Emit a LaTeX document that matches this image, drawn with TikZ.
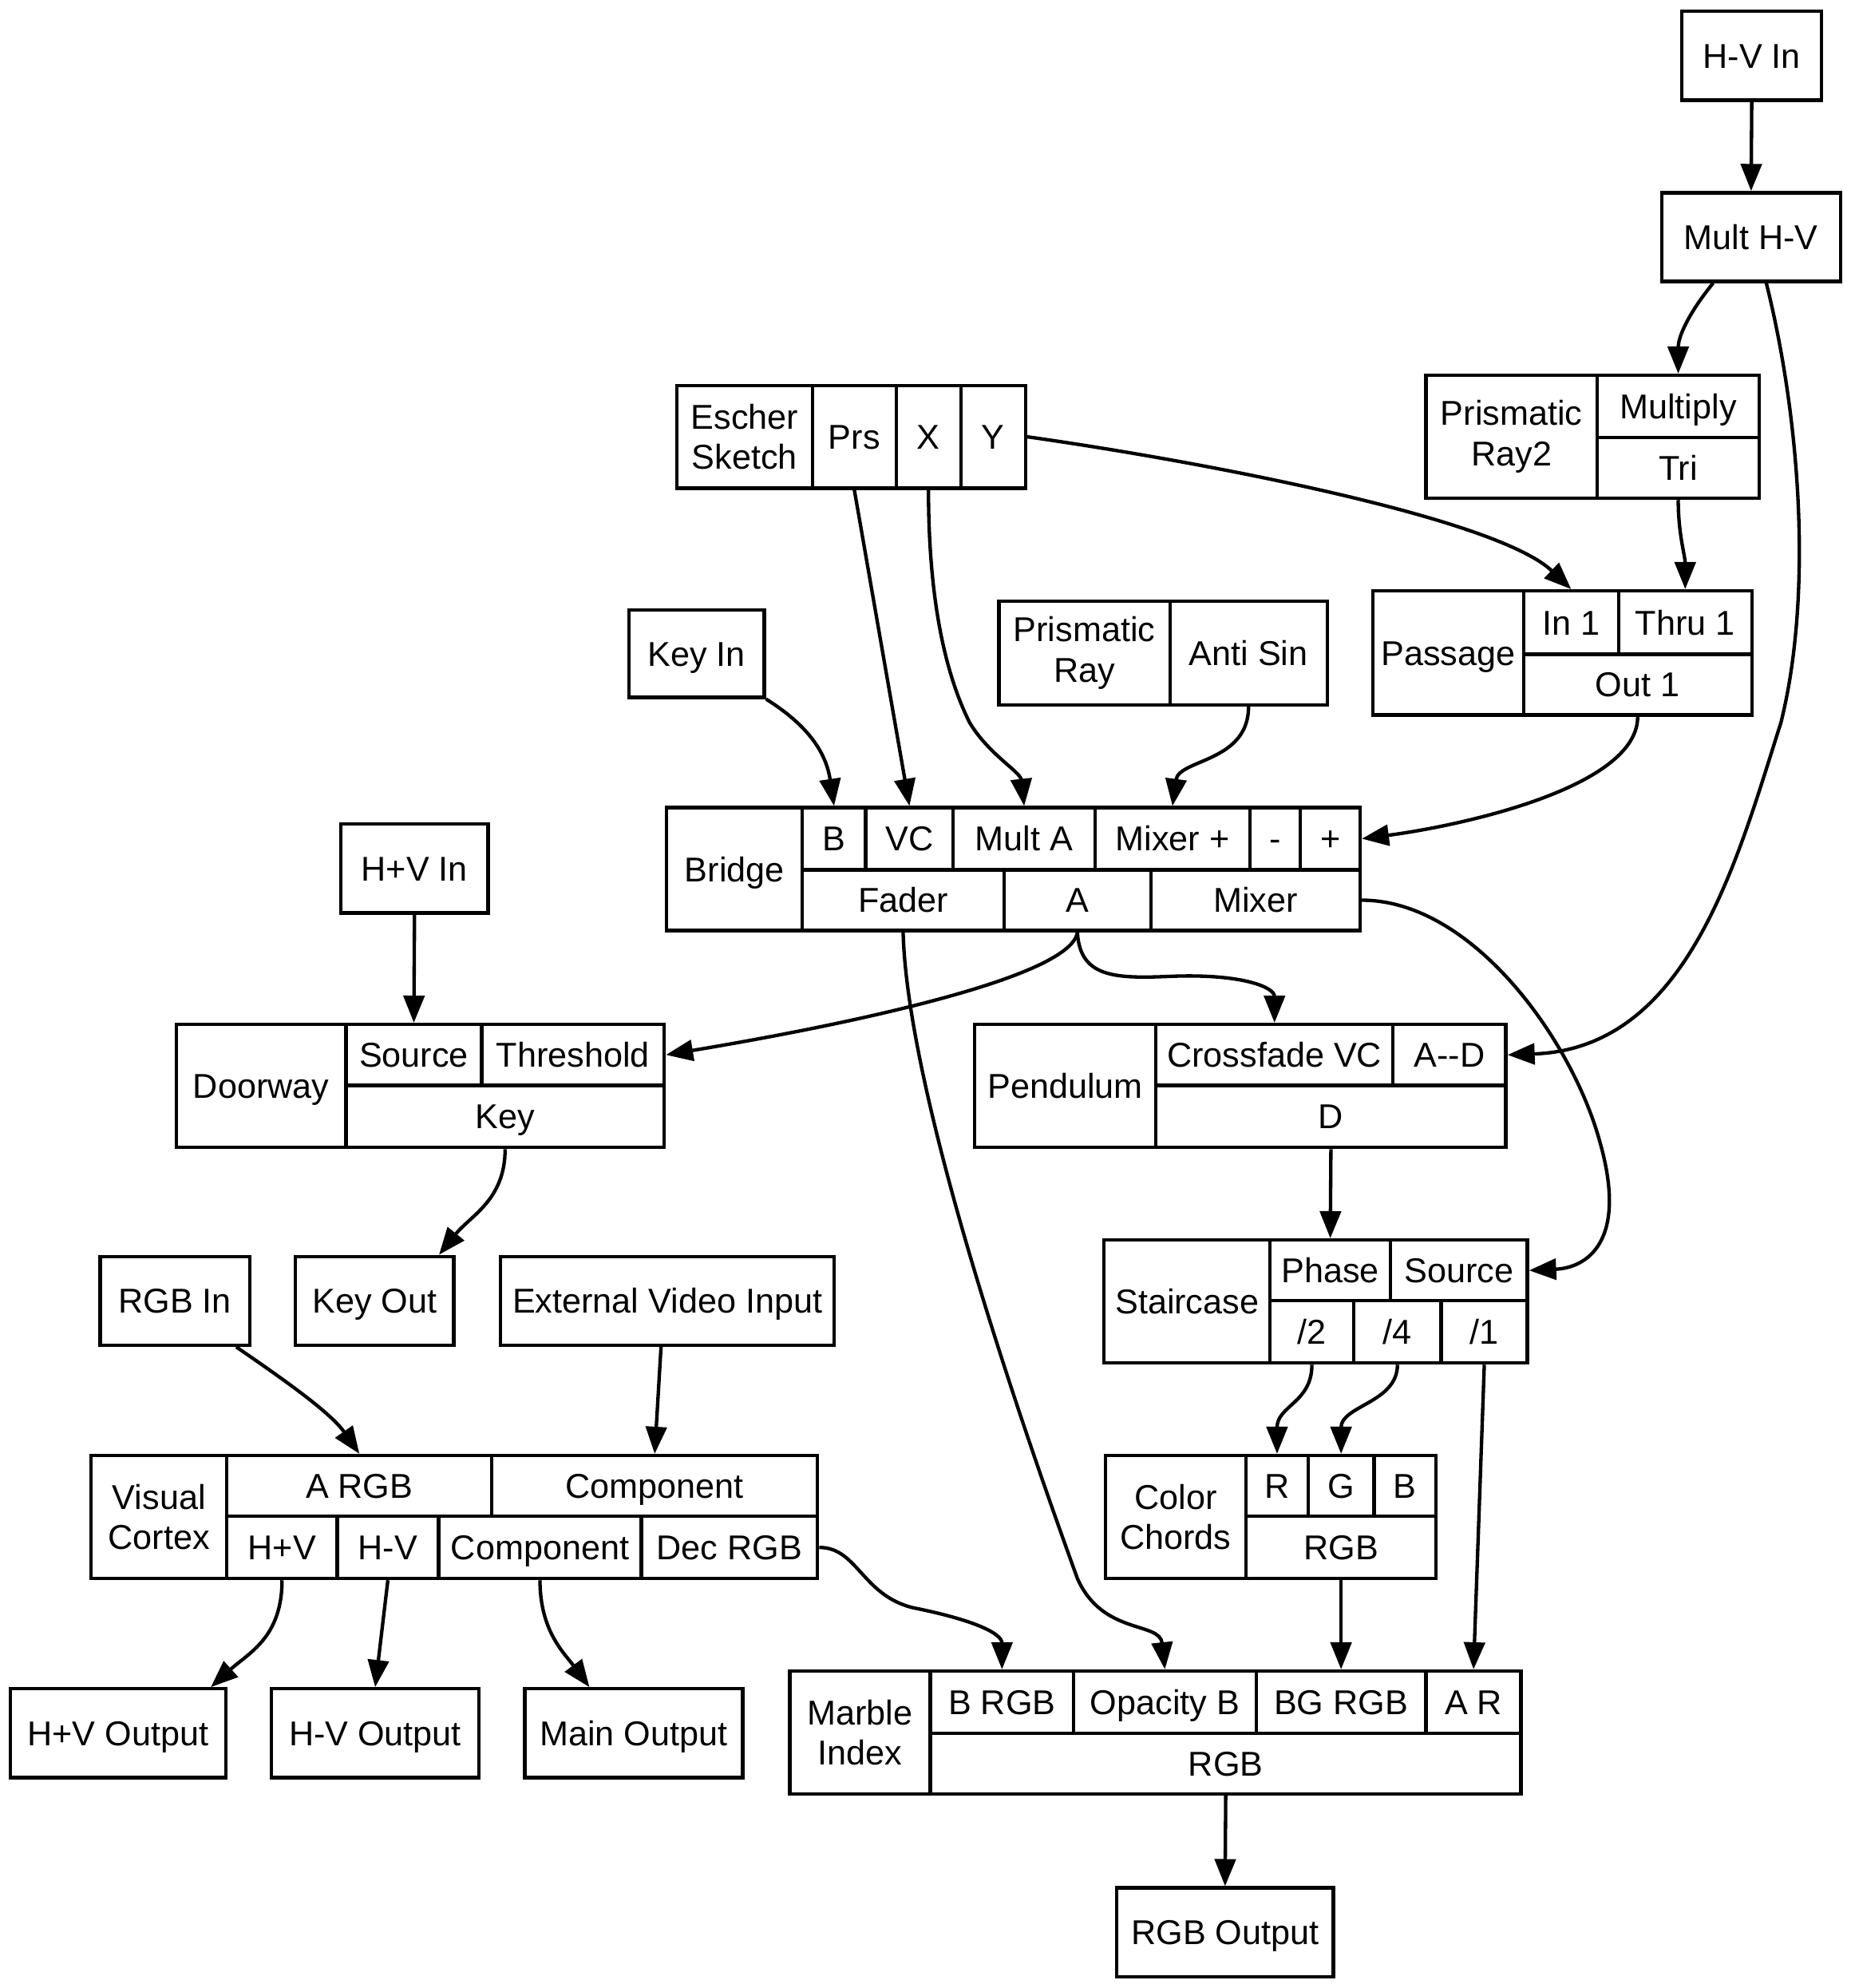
\documentclass[tikz,border=0pt]{standalone}
\usepackage{fontspec}
\setmainfont{Liberation Sans}
\usetikzlibrary{arrows.meta, fit, calc}

\begin{document}
\begin{tikzpicture}[x=0.515pt, y=-0.515pt,
  fld/.style={draw, line width=1.4pt, inner sep=0pt, fit={#1}},
  txt/.style={inner sep=0pt, font=\fontsize{14}{16.5}\selectfont, text height=10pt, text depth=0pt},
  txttwo/.style={inner sep=0pt, align=center, font=\fontsize{14}{16.5}\selectfont},
  link/.style={line width=1.4pt, -{Triangle[length=11pt, width=8.5pt]}}]
\useasboundingbox (0,0) rectangle (1460,1568);
\node[fld={(1327,9) (1437,79)}, label={[txt]center:H-V In}] (hvin) {};
\node[fld={(1311,152) (1452,222)}, label={[txt]center:Mult H-V}] (multhv) {};
\node[fld={(496,481) (603,550)}, label={[txt]center:Key In}] (keyin) {};
\node[fld={(269,650) (385,720)}, label={[txt]center:H+V In}] (hpvin) {};
\node[fld={(79,991) (197,1061)}, label={[txt]center:RGB In}] (rgbin) {};
\node[fld={(233,991) (358,1061)}, label={[txt]center:Key Out}] (keyout) {};
\node[fld={(395,991) (658,1061)}, label={[txt]center:External Video Input}] (extin) {};
\node[fld={(8,1332) (178,1402)}, label={[txt]center:H+V Output}] (hpvout) {};
\node[fld={(214,1332) (378,1402)}, label={[txt]center:H-V Output}] (hvout) {};
\node[fld={(414,1332) (586,1402)}, label={[txt]center:Main Output}] (mainout) {};
\node[fld={(881,1489) (1052,1559)}, label={[txt]center:RGB Output}] (rgbout) {};
\node[fld={(1125,296) (1260,393)}, label={[txttwo]center:{Prismatic\\Ray2}}] (pr2) {};
\node[fld={(1260,296) (1388,345)}, label={[txt]center:Multiply}] (pr2mul) {};
\node[fld={(1260,345) (1388,393)}, label={[txt]center:Tri}] (pr2tri) {};
\node[fld={(534,304) (641,385)}, label={[txttwo]center:{Escher\\Sketch}}] (esc) {};
\node[fld={(641,304) (707,385)}, label={[txt]center:Prs}] (escprs) {};
\node[fld={(707,304) (758,385)}, label={[txt]center:X}] (escx) {};
\node[fld={(758,304) (809,385)}, label={[txt]center:Y}] (escy) {};
\node[fld={(788,474) (923,556)}, label={[txttwo]center:{Prismatic\\Ray}}] (pr) {};
\node[fld={(923,474) (1047,556)}, label={[txt]center:Anti Sin}] (prsin) {};
\node[fld={(1083,466) (1202,564)}, label={[txt]center:Passage}] (pas) {};
\node[fld={(1202,466) (1277,516)}, label={[txt]center:In 1}] (pasin) {};
\node[fld={(1277,466) (1382,516)}, label={[txt]center:Thru 1}] (pasthru) {};
\node[fld={(1202,516) (1382,564)}, label={[txt]center:Out 1}] (pasout) {};
\node[fld={(526,637) (633,734)}, label={[txt]center:Bridge}] (br) {};
\node[fld={(633,637) (683,686)}, label={[txt]center:B}] (brb) {};
\node[fld={(683,637) (752,686)}, label={[txt]center:VC}] (brvc) {};
\node[fld={(752,637) (864,686)}, label={[txt]center:Mult A}] (brmulta) {};
\node[fld={(864,637) (986,686)}, label={[txt]center:Mixer +}] (brmixp) {};
\node[fld={(986,637) (1026,686)}, label={[txt]center:-}] (brminus) {};
\node[fld={(1026,637) (1073,686)}, label={[txt]center:+}] (brplus) {};
\node[fld={(633,686) (792,734)}, label={[txt]center:Fader}] (brfader) {};
\node[fld={(792,686) (908,734)}, label={[txt]center:A}] (bra) {};
\node[fld={(908,686) (1073,734)}, label={[txt]center:Mixer}] (brmix) {};
\node[fld={(139,808) (273,905)}, label={[txt]center:Doorway}] (door) {};
\node[fld={(273,808) (380,856)}, label={[txt]center:Source}] (doorsrc) {};
\node[fld={(380,808) (524,856)}, label={[txt]center:Threshold}] (doorthr) {};
\node[fld={(273,856) (524,905)}, label={[txt]center:Key}] (doorkey) {};
\node[fld={(769,808) (912,905)}, label={[txt]center:Pendulum}] (pend) {};
\node[fld={(912,808) (1099,856)}, label={[txt]center:Crossfade VC}] (pendxf) {};
\node[fld={(1099,808) (1188,856)}, label={[txt]center:A\mbox{-}\mbox{-}D}] (pendad) {};
\node[fld={(912,856) (1188,905)}, label={[txt]center:D}] (pendd) {};
\node[fld={(871,978) (1002,1075)}, label={[txt]center:Staircase}] (stair) {};
\node[fld={(1002,978) (1097,1026)}, label={[txt]center:Phase}] (stairph) {};
\node[fld={(1097,978) (1205,1026)}, label={[txt]center:Source}] (stairsrc) {};
\node[fld={(1002,1026) (1068,1075)}, label={[txt]center:/2}] (stairtwo) {};
\node[fld={(1068,1026) (1137,1075)}, label={[txt]center:/4}] (stairfour) {};
\node[fld={(1137,1026) (1205,1075)}, label={[txt]center:/1}] (stairone) {};
\node[fld={(72,1148) (179,1245)}, label={[txttwo]center:{Visual\\Cortex}}] (vc) {};
\node[fld={(179,1148) (388,1196)}, label={[txt]center:A RGB}] (vcargb) {};
\node[fld={(388,1148) (645,1196)}, label={[txt]center:Component}] (vccompin) {};
\node[fld={(179,1196) (266,1245)}, label={[txt]center:H+V}] (vchpv) {};
\node[fld={(266,1196) (346,1245)}, label={[txt]center:H-V}] (vchmv) {};
\node[fld={(346,1196) (506,1245)}, label={[txt]center:Component}] (vccomp) {};
\node[fld={(506,1196) (645,1245)}, label={[txt]center:Dec RGB}] (vcdec) {};
\node[fld={(872,1148) (983,1245)}, label={[txttwo]center:{Color\\Chords}}] (cc) {};
\node[fld={(983,1148) (1032,1196)}, label={[txt]center:R}] (ccr) {};
\node[fld={(1032,1148) (1084,1196)}, label={[txt]center:G}] (ccg) {};
\node[fld={(1084,1148) (1133,1196)}, label={[txt]center:B}] (ccb) {};
\node[fld={(983,1196) (1133,1245)}, label={[txt]center:RGB}] (ccrgb) {};
\node[fld={(623,1318) (734,1415)}, label={[txttwo]center:{Marble\\Index}}] (mi) {};
\node[fld={(734,1318) (847,1367)}, label={[txt]center:B RGB}] (mibrgb) {};
\node[fld={(847,1318) (991,1367)}, label={[txt]center:Opacity B}] (miop) {};
\node[fld={(991,1318) (1125,1367)}, label={[txt]center:BG RGB}] (mibg) {};
\node[fld={(1125,1318) (1200,1367)}, label={[txt]center:A R}] (miar) {};
\node[fld={(734,1367) (1200,1415)}, label={[txt]center:RGB}] (mirgb) {};
\draw[link] (hvin.south) -- (multhv.north);
\draw[link] ($(multhv.south)+(-30,0)$) .. controls +(-18,22) and +(0,-30) .. (pr2mul.north);
\draw[link] ($(multhv.south)+(12,0)$) .. controls +(27,108) and +(25,-100) .. (1405,570) .. controls +(-35,110) and +(142,-5) .. (pendad.east);
\draw[link] (pr2tri.south) .. controls +(0,27) and +(0,-26) .. (pasthru.north);
\draw[link] (escy.east) .. controls +(141,20) and +(-59,-56) .. (pasin.north);
\draw[link] (escprs.south) -- (brvc.north);
\draw[link] (escx.south) .. controls +(0,65) and +(-25,-50) .. (765,570) .. controls +(15,25) and +(-3,-27) .. (brmulta.north);
\draw[link] (keyin.south east) .. controls +(27,17) and +(-7,-47) .. (brb.north);
\draw[link] (prsin.south) .. controls +(0,44) and +(5,-37) .. (brmixp.north);
\draw[link] (pasout.south) .. controls +(0,56) and +(77,-10) .. (brplus.east);
\draw[link] (hpvin.south) -- (doorsrc.north);
\draw[link] (bra.south) .. controls +(-5,35) and +(150,-25) .. (doorthr.east);
\draw[link] (bra.south) .. controls +(2,36) and +(-45,2) .. (925,770) .. controls +(55,-2) and +(0,-28) .. (pendxf.north);
\draw[link] (brmix.east) .. controls +(87,0) and +(-22,-80) .. (1262,900) .. controls +(23,80) and +(45,-2) .. (stairsrc.east);
\draw[link] (brfader.south) .. controls +(3,116) and +(-60,-165) .. (850,1245) .. controls +(20,45) and +(-4,-38) .. (miop.north);
\draw[link] (doorkey.south) .. controls +(0,40) and +(25,-31) .. ($(keyout.north east)+(-13,0)$);
\draw[link] (pendd.south) -- (stairph.north);
\draw[link] (stairtwo.south) .. controls +(0,30) and +(0,-38) .. (ccr.north);
\draw[link] (stairfour.south) .. controls +(0,30) and +(0,-38) .. (ccg.north);
\draw[link] (stairone.south) -- (miar.north);
\draw[link] ($(rgbin.south east)+(-12,0)$) .. controls +(35,24) and +(-23,-33) .. (vcargb.north);
\draw[link] ($(extin.south)+(-5,0)$) -- (vccompin.north);
\draw[link] (vchpv.south) .. controls +(0,45) and +(30,-27) .. ($(hpvout.north east)+(-13,0)$);
\draw[link] (vchmv.south) -- (hvout.north);
\draw[link] (vccomp.south) .. controls +(0,40) and +(-20,-27) .. ($(mainout.north)+(-35,0)$);
\draw[link] (vcdec.east) .. controls +(30,0) and +(-40,-10) .. (720,1268) .. controls +(50,10) and +(0,-28) .. (mibrgb.north);
\draw[link] (ccrgb.south) -- (mibg.north);
\draw[link] (mirgb.south) -- (rgbout.north);
\end{tikzpicture}
\end{document}
